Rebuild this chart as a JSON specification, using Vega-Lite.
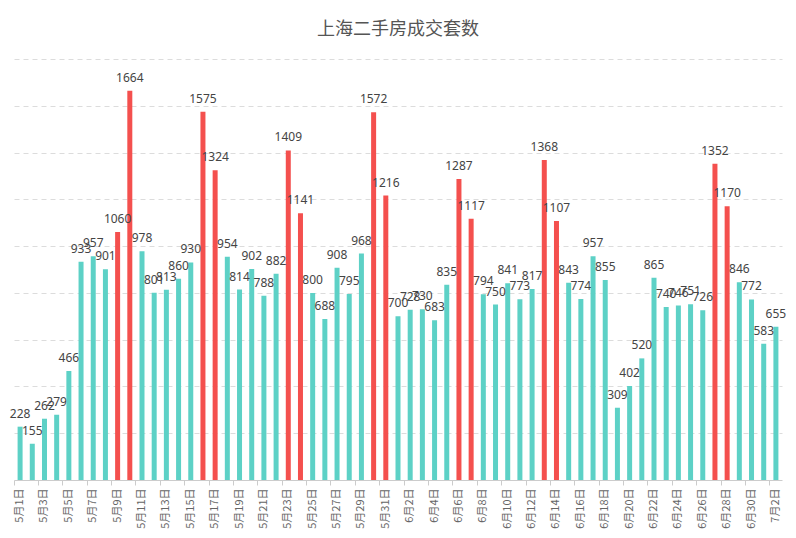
{
  "$schema": "https://vega.github.io/schema/vega-lite/v6.json",
  "width": 768,
  "height": 421,
  "autosize": "none",
  "padding": {"left": 14, "top": 59, "right": 14, "bottom": 57},
  "background": "#ffffff",
  "title": {
    "text": "上海二手房成交套数",
    "fontSize": 18,
    "fontWeight": "normal",
    "color": "#555555",
    "offset": 20
  },
  "config": {
    "font": "Noto Sans CJK SC",
    "view": {"stroke": null}
  },
  "data": {
    "values": [
      {"d": "5月1日", "v": 228, "c": "N"},
      {"d": "5月2日", "v": 155, "c": "N"},
      {"d": "5月3日", "v": 262, "c": "N"},
      {"d": "5月4日", "v": 279, "c": "N"},
      {"d": "5月5日", "v": 466, "c": "N"},
      {"d": "5月6日", "v": 933, "c": "N"},
      {"d": "5月7日", "v": 957, "c": "N"},
      {"d": "5月8日", "v": 901, "c": "N"},
      {"d": "5月9日", "v": 1060, "c": "Y"},
      {"d": "5月10日", "v": 1664, "c": "Y"},
      {"d": "5月11日", "v": 978, "c": "N"},
      {"d": "5月12日", "v": 801, "c": "N"},
      {"d": "5月13日", "v": 813, "c": "N"},
      {"d": "5月14日", "v": 860, "c": "N"},
      {"d": "5月15日", "v": 930, "c": "N"},
      {"d": "5月16日", "v": 1575, "c": "Y"},
      {"d": "5月17日", "v": 1324, "c": "Y"},
      {"d": "5月18日", "v": 954, "c": "N"},
      {"d": "5月19日", "v": 814, "c": "N"},
      {"d": "5月20日", "v": 902, "c": "N"},
      {"d": "5月21日", "v": 788, "c": "N"},
      {"d": "5月22日", "v": 882, "c": "N"},
      {"d": "5月23日", "v": 1409, "c": "Y"},
      {"d": "5月24日", "v": 1141, "c": "Y"},
      {"d": "5月25日", "v": 800, "c": "N"},
      {"d": "5月26日", "v": 688, "c": "N"},
      {"d": "5月27日", "v": 908, "c": "N"},
      {"d": "5月28日", "v": 795, "c": "N"},
      {"d": "5月29日", "v": 968, "c": "N"},
      {"d": "5月30日", "v": 1572, "c": "Y"},
      {"d": "5月31日", "v": 1216, "c": "Y"},
      {"d": "6月1日", "v": 700, "c": "N"},
      {"d": "6月2日", "v": 728, "c": "N"},
      {"d": "6月3日", "v": 730, "c": "N"},
      {"d": "6月4日", "v": 683, "c": "N"},
      {"d": "6月5日", "v": 835, "c": "N"},
      {"d": "6月6日", "v": 1287, "c": "Y"},
      {"d": "6月7日", "v": 1117, "c": "Y"},
      {"d": "6月8日", "v": 794, "c": "N"},
      {"d": "6月9日", "v": 750, "c": "N"},
      {"d": "6月10日", "v": 841, "c": "N"},
      {"d": "6月11日", "v": 773, "c": "N"},
      {"d": "6月12日", "v": 817, "c": "N"},
      {"d": "6月13日", "v": 1368, "c": "Y"},
      {"d": "6月14日", "v": 1107, "c": "Y"},
      {"d": "6月15日", "v": 843, "c": "N"},
      {"d": "6月16日", "v": 774, "c": "N"},
      {"d": "6月17日", "v": 957, "c": "N"},
      {"d": "6月18日", "v": 855, "c": "N"},
      {"d": "6月19日", "v": 309, "c": "N"},
      {"d": "6月20日", "v": 402, "c": "N"},
      {"d": "6月21日", "v": 520, "c": "N"},
      {"d": "6月22日", "v": 865, "c": "N"},
      {"d": "6月23日", "v": 740, "c": "N"},
      {"d": "6月24日", "v": 746, "c": "N"},
      {"d": "6月25日", "v": 751, "c": "N"},
      {"d": "6月26日", "v": 726, "c": "N"},
      {"d": "6月27日", "v": 1352, "c": "Y"},
      {"d": "6月28日", "v": 1170, "c": "Y"},
      {"d": "6月29日", "v": 846, "c": "N"},
      {"d": "6月30日", "v": 772, "c": "N"},
      {"d": "7月1日", "v": 583, "c": "N"},
      {"d": "7月2日", "v": 655, "c": "N"}
    ]
  },
  "encoding": {
    "x": {
      "field": "d",
      "type": "nominal",
      "sort": null,
      "scale": {"paddingInner": 0, "paddingOuter": 0}
    },
    "y": {
      "field": "v",
      "type": "quantitative",
      "scale": {"domain": [0, 1800], "nice": false},
      "axis": {
        "title": null,
        "labels": false,
        "ticks": false,
        "domain": false,
        "values": [200, 400, 600, 800, 1000, 1200, 1400, 1600, 1800],
        "gridColor": "#dcdcdc",
        "gridDash": [5, 4]
      }
    }
  },
  "layer": [
    {
      "mark": {"type": "bar", "width": 5},
      "encoding": {
        "x": {
          "field": "d",
          "type": "nominal",
          "sort": null,
          "axis": {
            "title": null,
            "values": ["5月1日", "5月3日", "5月5日", "5月7日", "5月9日", "5月11日", "5月13日", "5月15日", "5月17日", "5月19日", "5月21日", "5月23日", "5月25日", "5月27日", "5月29日", "5月31日", "6月2日", "6月4日", "6月6日", "6月8日", "6月10日", "6月12日", "6月14日", "6月16日", "6月18日", "6月20日", "6月22日", "6月24日", "6月26日", "6月28日", "6月30日", "7月2日"],
            "labelAngle": -90,
            "labelAlign": "right",
            "labelBaseline": "middle",
            "labelFontSize": 11,
            "labelColor": "#666666",
            "labelPadding": 8,
            "ticks": false,
            "domainColor": "#cccccc",
            "grid": false
          }
        },
        "color": {
          "field": "c",
          "type": "nominal",
          "scale": {"domain": ["N", "Y"], "range": ["#5dd1c6", "#f4504e"]},
          "legend": null
        }
      }
    },
    {
      "mark": {"type": "text", "baseline": "alphabetic", "dy": -9, "fontSize": 12, "font": "Noto Sans", "color": "#444444"},
      "encoding": {
        "x": {
          "field": "d",
          "type": "nominal",
          "sort": null,
          "axis": {
            "title": null,
            "values": ["5月1日", "5月3日", "5月5日", "5月7日", "5月9日", "5月11日", "5月13日", "5月15日", "5月17日", "5月19日", "5月21日", "5月23日", "5月25日", "5月27日", "5月29日", "5月31日", "6月2日", "6月4日", "6月6日", "6月8日", "6月10日", "6月12日", "6月14日", "6月16日", "6月18日", "6月20日", "6月22日", "6月24日", "6月26日", "6月28日", "6月30日", "7月2日"],
            "orient": "bottom",
            "bandPosition": 0,
            "labels": false,
            "domain": false,
            "grid": false,
            "ticks": true,
            "tickSize": 5,
            "tickColor": "#cccccc"
          }
        },
        "text": {"field": "v", "type": "quantitative"}
      }
    }
  ],
  "resolve": {"axis": {"x": "independent"}}
}
